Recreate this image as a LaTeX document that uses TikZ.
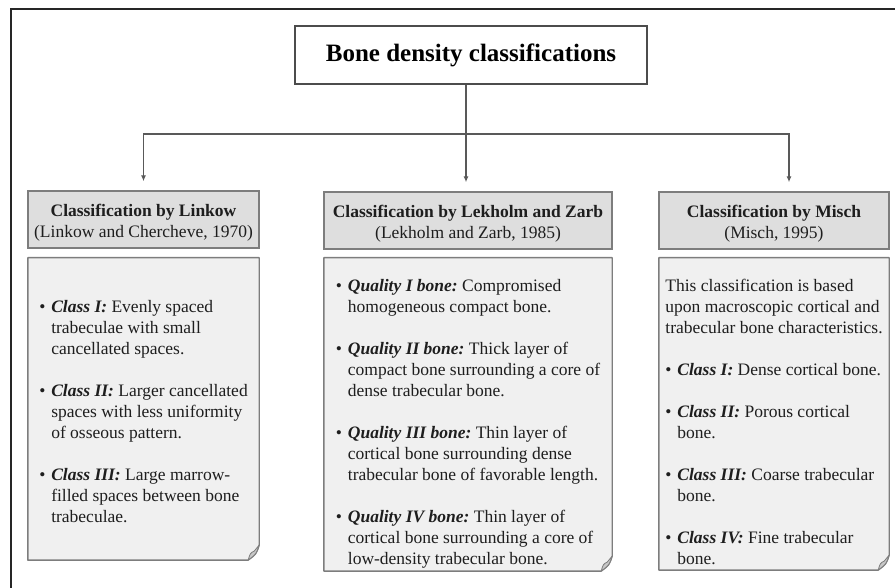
\documentclass[tikz,border=0pt]{standalone}
\usepackage{fontspec}
\setmainfont{Liberation Serif}
\usepackage{xcolor}
\definecolor{edgegray}{RGB}{125,125,125}
\definecolor{headfill}{RGB}{222,222,222}
\definecolor{bodyfill}{RGB}{240,240,240}
\definecolor{inkgray}{RGB}{30,30,30}
\usepackage{tikz}
\usetikzlibrary{positioning}
\usetikzlibrary{backgrounds}
\usetikzlibrary{arrows.meta}
\newcommand{\widthlinkow}{231pt}
\newcommand{\widthlekholm}{288pt}
\newcommand{\widthmisch}{230pt}
\newcommand{\hang}{\hspace*{12pt}}
\newcommand{\topgap}[1]{\rule{0pt}{#1}}
\newcommand{\itm}[1]{\makebox[12pt][l]{\textbullet}\textbf{\textit{#1}}}
% outline of a body box with its folded lower right corner
\newcommand{\foldcorner}[1]{%
    \draw[boxedge, fill=bodyfill]
        (#1.south west) -- (#1.north west) -- (#1.north east)
        -- ([yshift=15pt]#1.south east)
        .. controls ([xshift=-3pt,yshift=6pt]#1.south east) .. ([xshift=-11pt]#1.south east)
        -- cycle;
    \draw[boxedge, line width=0.8pt, fill=black!22]
        ([xshift=-11pt]#1.south east)
        .. controls ([xshift=-9pt,yshift=7pt]#1.south east) .. ([xshift=-5pt,yshift=9pt]#1.south east)
        -- ([yshift=15pt]#1.south east)
        .. controls ([xshift=-3pt,yshift=6pt]#1.south east) .. ([xshift=-11pt]#1.south east);
}
\tikzset{
    outer/.style={line width=1.3pt, black!85},
    titlebox/.style={draw=black!70, line width=1.6pt, minimum width=352pt, minimum height=58pt,
        font=\fontsize{25}{30}\selectfont\bfseries},
    headbox/.style={draw=edgegray, line width=1.4pt, fill=headfill, minimum height=57pt,
        align=center, inner sep=2pt, text=inkgray, font=\fontsize{17.5}{21}\selectfont},
    bodybox/.style={minimum height=#1, align=left, inner sep=2pt, text=inkgray,
        font=\fontsize{17.5}{21}\selectfont\frenchspacing},
    boxedge/.style={draw=edgegray, line width=1.4pt, line join=round},
    link/.style={-{Latex[length=6pt,width=5pt]}, line width=1.3pt, black!65, shorten >=9pt}
}

\begin{document}
\begin{tikzpicture}[x=1pt, y=-1pt]
    \useasboundingbox (0,0) rectangle (895,588);
    \draw[outer] (11,588) -- (11,9) -- (895,9);

    \node[titlebox] (title) at (471,55) {Bone density classifications};

    \node[headbox, minimum width=\widthlinkow] (hdr-linkow) at (143.5,219.5)
        {\topgap{19pt}\textbf{Classification by Linkow}\\(Linkow and Chercheve, 1970)};
    \node[headbox, minimum width=\widthlekholm] (hdr-lekholm) at (468,220.5)
        {\topgap{19pt}\textbf{Classification by Lekholm and Zarb}\\(Lekholm and Zarb, 1985)};
    \node[headbox, minimum width=\widthmisch] (hdr-misch) at (774,220.5)
        {\topgap{19pt}\textbf{Classification by Misch}\\(Misch, 1995)};

    \node[bodybox=302pt, below=9pt of hdr-linkow, minimum width=\widthlinkow] (body-linkow)
        {\topgap{18pt}\itm{Class I:} Evenly spaced\\
         \hang trabeculae with small\\
         \hang cancellated spaces.\\[21pt]
         \itm{Class II:} Larger cancellated\\
         \hang spaces with less uniformity\\
         \hang of osseous pattern.\\[21pt]
         \itm{Class III:} Large marrow-\\
         \hang filled spaces between bone\\
         \hang trabeculae.};
    \node[bodybox=313pt, below=8pt of hdr-lekholm, minimum width=\widthlekholm] (body-lekholm)
        {\topgap{31pt}\itm{Quality I bone:} Compromised\\
         \hang homogeneous compact bone.\\[21pt]
         \itm{Quality II bone:} Thick layer of\\
         \hang compact bone surrounding a core of\\
         \hang dense trabecular bone.\\[21pt]
         \itm{Quality III bone:} Thin layer of\\
         \hang cortical bone surrounding dense\\
         \hang trabecular bone of favorable length.\\[21pt]
         \itm{Quality IV bone:} Thin layer of\\
         \hang cortical bone surrounding a core of\\
         \hang low-density trabecular bone.};
    \node[bodybox=312pt, below=8pt of hdr-misch, minimum width=\widthmisch] (body-misch)
        {\topgap{29pt}This classification is based\\
         upon macroscopic cortical and\\
         trabecular bone characteristics.\\[21pt]
         \itm{Class I:} Dense cortical bone.\\[21pt]
         \itm{Class II:} Porous cortical\\
         \hang bone.\\[21pt]
         \itm{Class III:} Coarse trabecular\\
         \hang bone.\\[21pt]
         \itm{Class IV:} Fine trabecular\\
         \hang bone.};

    \begin{scope}[on background layer]
        \foldcorner{body-linkow}
        \foldcorner{body-lekholm}
        \foldcorner{body-misch}
    \end{scope}

    \coordinate (fork) at (466,134);
    \draw[link] (title.south -| fork) -- (fork |- hdr-lekholm.north);
    \draw[link] (fork) -| (hdr-linkow.north);
    \draw[link] (fork) -| ([xshift=15pt]hdr-misch.north);
\end{tikzpicture}
\end{document}
